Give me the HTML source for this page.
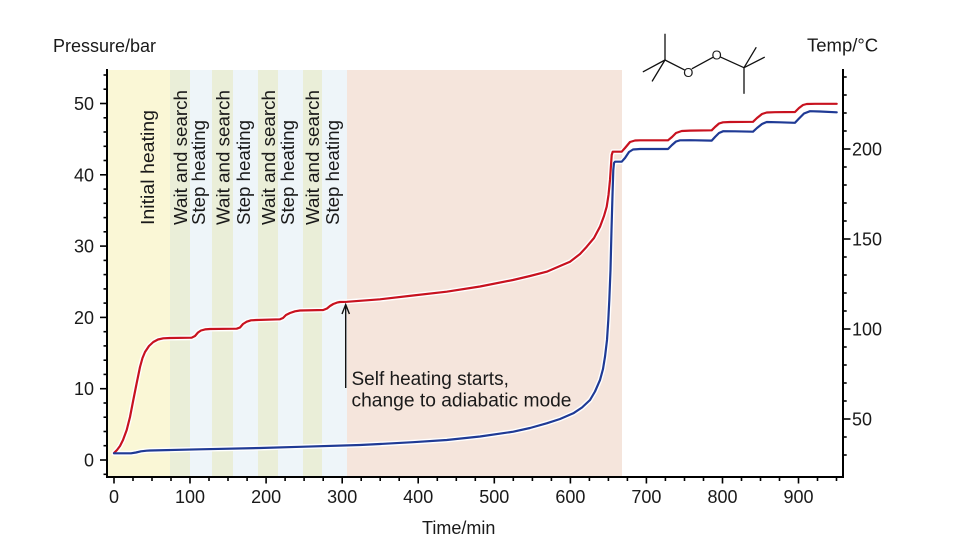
<!DOCTYPE html>
<html>
<head>
<meta charset="utf-8">
<style>
  html,body{margin:0;padding:0;background:#fff;}
  svg{display:block;}
  text{font-family:"Liberation Sans",Arial,sans-serif;fill:#1a1a1a;}
</style>
</head>
<body>
<svg width="960" height="550" viewBox="0 0 960 550" xmlns="http://www.w3.org/2000/svg">
  <!-- bands -->
  <rect x="107" y="70" width="63" height="407" fill="#faf7d6"/>
  <rect x="170" y="70" width="20" height="407" fill="#eaeed8"/>
  <rect x="190" y="70" width="22" height="407" fill="#eef5f9"/>
  <rect x="212" y="70" width="21" height="407" fill="#eaeed8"/>
  <rect x="233" y="70" width="25" height="407" fill="#eef5f9"/>
  <rect x="258" y="70" width="20" height="407" fill="#eaeed8"/>
  <rect x="278" y="70" width="25" height="407" fill="#eef5f9"/>
  <rect x="303" y="70" width="19" height="407" fill="#eaeed8"/>
  <rect x="322" y="70" width="25" height="407" fill="#eef5f9"/>
  <rect x="347" y="70" width="275" height="407" fill="#f5e5dc"/>

  <!-- band labels -->
  <g font-size="18">
    <text transform="translate(154,225) rotate(-90)" textLength="115" lengthAdjust="spacingAndGlyphs">Initial heating</text>
    <text transform="translate(187,225) rotate(-90)" textLength="135" lengthAdjust="spacingAndGlyphs">Wait and search</text>
    <text transform="translate(205,225) rotate(-90)" textLength="105" lengthAdjust="spacingAndGlyphs">Step heating</text>
    <text transform="translate(229.5,225) rotate(-90)" textLength="135" lengthAdjust="spacingAndGlyphs">Wait and search</text>
    <text transform="translate(250,225) rotate(-90)" textLength="105" lengthAdjust="spacingAndGlyphs">Step heating</text>
    <text transform="translate(275,225) rotate(-90)" textLength="135" lengthAdjust="spacingAndGlyphs">Wait and search</text>
    <text transform="translate(294,225) rotate(-90)" textLength="105" lengthAdjust="spacingAndGlyphs">Step heating</text>
    <text transform="translate(319,225) rotate(-90)" textLength="135" lengthAdjust="spacingAndGlyphs">Wait and search</text>
    <text transform="translate(339,225) rotate(-90)" textLength="105" lengthAdjust="spacingAndGlyphs">Step heating</text>
  </g>

  <!-- curves -->
  <g fill="none" stroke-linejoin="round" stroke-linecap="round">
    <polyline id="red" stroke="#fff" stroke-width="5" points="114,453 117,450 120,446 123,440 126.7,430 130,417 133.3,400 136.7,383 140,367 142.5,358 145,352 149,346 153.3,342 158,339.5 163.3,338.3 170,338 191.7,337.7 195,336 198,332.5 201,330.5 205,329.4 210,329 236.7,328.7 240,327.5 243,324 246.7,321.7 251,320.3 256.7,320 280,319.3 283,318 286,315 290,313 295,311.3 300,310.5 323.3,310 327,308.5 330,306 333.3,304 337,302.6 340,302 346.7,301.8 360,300.8 380,299.3 413,295.5 446.7,291.7 480,286.5 513,280 530,276 546.7,271.7 560,266 570,261.7 580,254 586.7,246.7 594,238 600,226.7 604,216 606.7,206.7 608.5,195 610,180 611,165 611.7,155 612.7,151.7 621.7,151.7 625,148 630,142 635,140.5 640,140.3 668,140.3 672,137 676,133 681.7,131 690,130.6 711.7,130.3 715,127 719,123.5 723,122.3 730,122 753,121.8 757,118 762,114 766.7,112.5 775,112.2 795,112 799,108 803,105 806.7,104 815,103.8 836.7,103.8"/>
    <polyline id="blue" stroke="#fff" stroke-width="5" points="114,453.3 131,453.3 136,452.5 141,451.3 146.7,450.7 150,450.5 200,449.3 260,448 300,446.8 360,445 380,444 413,442.2 446.7,440 480,436.5 513.3,431.7 530,428 546.7,423.3 560,419 573.3,413.3 582,407.5 590,400 595,391.5 600,380 603,369 605,356.7 607,340 608.3,320 609.3,300 610.5,270 611.5,230 612.5,195 613.3,170 614,163 615,161.7 621.7,161.7 625,158 629,152 633,149.5 640,149 668,149 672,145 676,141.5 680,140.3 690,140.2 711.7,140.6 715,137 719,133 723.3,131.2 735,131.3 753,131.7 757,128 762,124 766.7,122 780,122.3 795,122.8 799,118.5 804,113.5 810,111.2 820,111.5 836.7,112.3"/>
    <polyline stroke="#c8121f" stroke-width="2.2" points="114,453 117,450 120,446 123,440 126.7,430 130,417 133.3,400 136.7,383 140,367 142.5,358 145,352 149,346 153.3,342 158,339.5 163.3,338.3 170,338 191.7,337.7 195,336 198,332.5 201,330.5 205,329.4 210,329 236.7,328.7 240,327.5 243,324 246.7,321.7 251,320.3 256.7,320 280,319.3 283,318 286,315 290,313 295,311.3 300,310.5 323.3,310 327,308.5 330,306 333.3,304 337,302.6 340,302 346.7,301.8 360,300.8 380,299.3 413,295.5 446.7,291.7 480,286.5 513,280 530,276 546.7,271.7 560,266 570,261.7 580,254 586.7,246.7 594,238 600,226.7 604,216 606.7,206.7 608.5,195 610,180 611,165 611.7,155 612.7,151.7 621.7,151.7 625,148 630,142 635,140.5 640,140.3 668,140.3 672,137 676,133 681.7,131 690,130.6 711.7,130.3 715,127 719,123.5 723,122.3 730,122 753,121.8 757,118 762,114 766.7,112.5 775,112.2 795,112 799,108 803,105 806.7,104 815,103.8 836.7,103.8"/>
    <polyline stroke="#1f3a95" stroke-width="2.2" points="114,453.3 131,453.3 136,452.5 141,451.3 146.7,450.7 150,450.5 200,449.3 260,448 300,446.8 360,445 380,444 413,442.2 446.7,440 480,436.5 513.3,431.7 530,428 546.7,423.3 560,419 573.3,413.3 582,407.5 590,400 595,391.5 600,380 603,369 605,356.7 607,340 608.3,320 609.3,300 610.5,270 611.5,230 612.5,195 613.3,170 614,163 615,161.7 621.7,161.7 625,158 629,152 633,149.5 640,149 668,149 672,145 676,141.5 680,140.3 690,140.2 711.7,140.6 715,137 719,133 723.3,131.2 735,131.3 753,131.7 757,128 762,124 766.7,122 780,122.3 795,122.8 799,118.5 804,113.5 810,111.2 820,111.5 836.7,112.3"/>
  </g>

  <!-- annotation arrow -->
  <g stroke="#111" stroke-width="1.4" fill="none">
    <line x1="345.7" y1="388" x2="345.7" y2="305"/>
    <polyline points="342,314 345.7,304.5 349.4,314"/>
  </g>
  <text x="351.5" y="385" font-size="19">Self heating starts,</text>
  <text x="351.5" y="406.5" font-size="19" textLength="220" lengthAdjust="spacingAndGlyphs">change to adiabatic mode</text>

  <!-- axes -->
  <g stroke="#000" stroke-width="2" fill="none">
    <line x1="107" y1="69" x2="107" y2="478"/>
    <line x1="106" y1="477" x2="844" y2="477"/>
    <line x1="843" y1="69" x2="843" y2="478"/>
  </g>

  <!-- left ticks -->
  <g stroke="#000" stroke-width="1.6">
    <line x1="100" y1="460" x2="107" y2="460"/>
    <line x1="100" y1="388.7" x2="107" y2="388.7"/>
    <line x1="100" y1="317.4" x2="107" y2="317.4"/>
    <line x1="100" y1="246.1" x2="107" y2="246.1"/>
    <line x1="100" y1="174.8" x2="107" y2="174.8"/>
    <line x1="100" y1="103.5" x2="107" y2="103.5"/>
    <line x1="103.5" y1="474.3" x2="107" y2="474.3"/>
    <line x1="103.5" y1="445.7" x2="107" y2="445.7"/>
    <line x1="103.5" y1="431.5" x2="107" y2="431.5"/>
    <line x1="103.5" y1="417.2" x2="107" y2="417.2"/>
    <line x1="103.5" y1="403" x2="107" y2="403"/>
    <line x1="103.5" y1="374.4" x2="107" y2="374.4"/>
    <line x1="103.5" y1="360.2" x2="107" y2="360.2"/>
    <line x1="103.5" y1="345.9" x2="107" y2="345.9"/>
    <line x1="103.5" y1="331.7" x2="107" y2="331.7"/>
    <line x1="103.5" y1="303.1" x2="107" y2="303.1"/>
    <line x1="103.5" y1="288.9" x2="107" y2="288.9"/>
    <line x1="103.5" y1="274.6" x2="107" y2="274.6"/>
    <line x1="103.5" y1="260.4" x2="107" y2="260.4"/>
    <line x1="103.5" y1="231.8" x2="107" y2="231.8"/>
    <line x1="103.5" y1="217.6" x2="107" y2="217.6"/>
    <line x1="103.5" y1="203.3" x2="107" y2="203.3"/>
    <line x1="103.5" y1="189.1" x2="107" y2="189.1"/>
    <line x1="103.5" y1="160.5" x2="107" y2="160.5"/>
    <line x1="103.5" y1="146.3" x2="107" y2="146.3"/>
    <line x1="103.5" y1="132" x2="107" y2="132"/>
    <line x1="103.5" y1="117.8" x2="107" y2="117.8"/>
    <line x1="103.5" y1="89.2" x2="107" y2="89.2"/>
    <line x1="103.5" y1="75" x2="107" y2="75"/>
  </g>
  <g font-size="18" text-anchor="end">
    <text x="94" y="466.5">0</text>
    <text x="94" y="395.2">10</text>
    <text x="94" y="323.9">20</text>
    <text x="94" y="252.6">30</text>
    <text x="94" y="181.3">40</text>
    <text x="94" y="110">50</text>
  </g>

  <!-- right ticks -->
  <g stroke="#000" stroke-width="1.6">
    <line x1="843" y1="419" x2="850.5" y2="419"/>
    <line x1="843" y1="329" x2="850.5" y2="329"/>
    <line x1="843" y1="239" x2="850.5" y2="239"/>
    <line x1="843" y1="149" x2="850.5" y2="149"/>
    <line x1="843" y1="455" x2="846.7" y2="455"/>
    <line x1="843" y1="437" x2="846.7" y2="437"/>
    <line x1="843" y1="401" x2="846.7" y2="401"/>
    <line x1="843" y1="383" x2="846.7" y2="383"/>
    <line x1="843" y1="365" x2="846.7" y2="365"/>
    <line x1="843" y1="347" x2="846.7" y2="347"/>
    <line x1="843" y1="311" x2="846.7" y2="311"/>
    <line x1="843" y1="293" x2="846.7" y2="293"/>
    <line x1="843" y1="275" x2="846.7" y2="275"/>
    <line x1="843" y1="257" x2="846.7" y2="257"/>
    <line x1="843" y1="221" x2="846.7" y2="221"/>
    <line x1="843" y1="203" x2="846.7" y2="203"/>
    <line x1="843" y1="185" x2="846.7" y2="185"/>
    <line x1="843" y1="167" x2="846.7" y2="167"/>
    <line x1="843" y1="131" x2="846.7" y2="131"/>
    <line x1="843" y1="113" x2="846.7" y2="113"/>
    <line x1="843" y1="95" x2="846.7" y2="95"/>
    <line x1="843" y1="77" x2="846.7" y2="77"/>
  </g>
  <g font-size="18">
    <text x="852" y="425.5">50</text>
    <text x="852" y="335.5">100</text>
    <text x="852" y="245.5">150</text>
    <text x="852" y="155.5">200</text>
  </g>

  <!-- bottom ticks -->
  <g stroke="#000" stroke-width="1.6">
    <line x1="114" y1="477" x2="114" y2="483.5"/>
    <line x1="190" y1="477" x2="190" y2="483.5"/>
    <line x1="266.1" y1="477" x2="266.1" y2="483.5"/>
    <line x1="342.2" y1="477" x2="342.2" y2="483.5"/>
    <line x1="418.2" y1="477" x2="418.2" y2="483.5"/>
    <line x1="494.3" y1="477" x2="494.3" y2="483.5"/>
    <line x1="570.4" y1="477" x2="570.4" y2="483.5"/>
    <line x1="646.4" y1="477" x2="646.4" y2="483.5"/>
    <line x1="722.5" y1="477" x2="722.5" y2="483.5"/>
    <line x1="798.5" y1="477" x2="798.5" y2="483.5"/>
    <line x1="133" y1="477" x2="133" y2="481"/>
    <line x1="152" y1="477" x2="152" y2="481"/>
    <line x1="171" y1="477" x2="171" y2="481"/>
    <line x1="209" y1="477" x2="209" y2="481"/>
    <line x1="228" y1="477" x2="228" y2="481"/>
    <line x1="247.1" y1="477" x2="247.1" y2="481"/>
    <line x1="285.1" y1="477" x2="285.1" y2="481"/>
    <line x1="304.1" y1="477" x2="304.1" y2="481"/>
    <line x1="323.2" y1="477" x2="323.2" y2="481"/>
    <line x1="361.2" y1="477" x2="361.2" y2="481"/>
    <line x1="380.2" y1="477" x2="380.2" y2="481"/>
    <line x1="399.2" y1="477" x2="399.2" y2="481"/>
    <line x1="437.3" y1="477" x2="437.3" y2="481"/>
    <line x1="456.3" y1="477" x2="456.3" y2="481"/>
    <line x1="475.3" y1="477" x2="475.3" y2="481"/>
    <line x1="513.3" y1="477" x2="513.3" y2="481"/>
    <line x1="532.4" y1="477" x2="532.4" y2="481"/>
    <line x1="551.4" y1="477" x2="551.4" y2="481"/>
    <line x1="589.4" y1="477" x2="589.4" y2="481"/>
    <line x1="608.4" y1="477" x2="608.4" y2="481"/>
    <line x1="627.4" y1="477" x2="627.4" y2="481"/>
    <line x1="665.4" y1="477" x2="665.4" y2="481"/>
    <line x1="684.5" y1="477" x2="684.5" y2="481"/>
    <line x1="703.5" y1="477" x2="703.5" y2="481"/>
    <line x1="741.5" y1="477" x2="741.5" y2="481"/>
    <line x1="760.5" y1="477" x2="760.5" y2="481"/>
    <line x1="779.5" y1="477" x2="779.5" y2="481"/>
    <line x1="817.5" y1="477" x2="817.5" y2="481"/>
    <line x1="836.5" y1="477" x2="836.5" y2="481"/>
  </g>
  <g font-size="18" text-anchor="middle">
    <text x="114" y="503">0</text>
    <text x="190" y="503">100</text>
    <text x="266.1" y="503">200</text>
    <text x="342.2" y="503">300</text>
    <text x="418.2" y="503">400</text>
    <text x="494.3" y="503">500</text>
    <text x="570.4" y="503">600</text>
    <text x="646.4" y="503">700</text>
    <text x="722.5" y="503">800</text>
    <text x="798.5" y="503">900</text>
  </g>

  <!-- axis titles -->
  <text x="53" y="52" font-size="18">Pressure/bar</text>
  <text x="807" y="51.5" font-size="18.5">Temp/°C</text>
  <text x="422" y="534" font-size="18">Time/min</text>

  <!-- molecule -->
  <g stroke="#111" stroke-width="1.3" fill="none" stroke-linecap="round">
    <line x1="665" y1="60" x2="665" y2="34.3"/>
    <line x1="665" y1="60" x2="643.3" y2="71.7"/>
    <line x1="665" y1="60" x2="652.3" y2="81"/>
    <line x1="665" y1="60" x2="684.3" y2="69.8"/>
    <line x1="692.3" y1="68.6" x2="712.5" y2="57.6"/>
    <line x1="720.8" y1="57.2" x2="744" y2="67.7"/>
    <line x1="744" y1="67.7" x2="756" y2="47.7"/>
    <line x1="744" y1="67.7" x2="764.3" y2="57.3"/>
    <line x1="744" y1="67.7" x2="744" y2="93.3"/>
  </g>
  <text x="688.3" y="77" font-size="13" text-anchor="middle">O</text>
  <text x="716.7" y="59.7" font-size="13" text-anchor="middle">O</text>
</svg>
</body>
</html>
